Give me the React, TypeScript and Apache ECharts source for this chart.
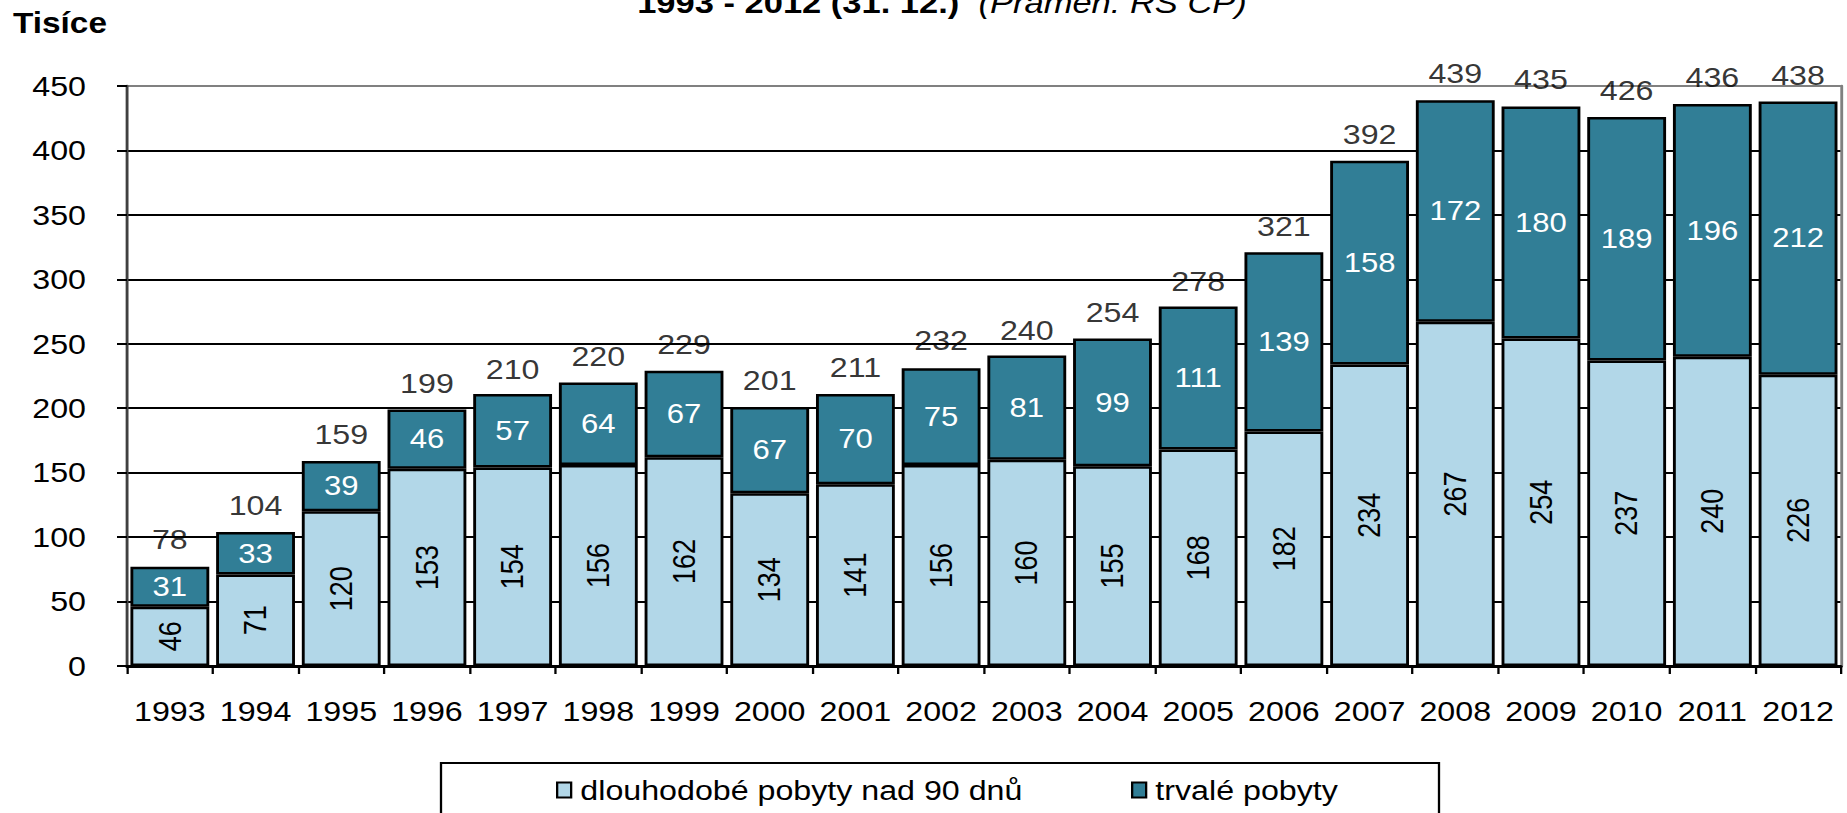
import React, { useEffect, useRef } from "react";
import * as echarts from "echarts";

const years = ["1993", "1994", "1995", "1996", "1997", "1998", "1999", "2000", "2001", "2002", "2003", "2004", "2005", "2006", "2007", "2008", "2009", "2010", "2011", "2012"];
const longTerm = [46, 71, 120, 153, 154, 156, 162, 134, 141, 156, 160, 155, 168, 182, 234, 267, 254, 237, 240, 226];
const permanent = [31, 33, 39, 46, 57, 64, 67, 67, 70, 75, 81, 99, 111, 139, 158, 172, 180, 189, 196, 212];
const totals = [78, 104, 159, 199, 210, 220, 229, 201, 211, 232, 240, 254, 278, 321, 392, 439, 435, 426, 436, 438];
const yMin = 0;
const yMax = 450;
const yStep = 50;
const seriesNames = ["dlouhodobé pobyty nad 90 dnů", "trvalé pobyty"];
const unitLabel = "Tisíce";
const titleBold = "1993 - 2012 (31. 12.)";
const titleItalic = "(Pramen: ŘS CP)";

const FONT = '"Liberation Sans", Arial, sans-serif';
const LIGHT = "#B2D7E8";
const DARK = "#317E96";

// the reference image is stretched horizontally; reproduce with a CSS scaleX
const SX = 1.15;
const PAGE_W = 1847;
const PAGE_H = 813;
const CW = Math.round(PAGE_W / SX);
const px = (v: number) => v / SX;

export default function App() {
  const ref = useRef<HTMLDivElement>(null);
  useEffect(() => {
    const chart = echarts.init(ref.current!, null, { renderer: "svg" });
    const gridColors: string[] = [];
    for (let v = yMin; v <= yMax; v += yStep) gridColors.push(v === yMax ? "#808080" : "#000000");
    chart.setOption({
      animation: false,
      backgroundColor: "#ffffff",
      textStyle: { fontFamily: FONT },
      grid: { left: px(127), right: px(6), top: 86, bottom: 147, containLabel: false },
      xAxis: {
        type: "category",
        data: years,
        axisLine: { show: true, lineStyle: { color: "#000", width: 3 } },
        axisTick: { show: true, length: 8, lineStyle: { color: "#000", width: 2 } },
        axisLabel: { interval: 0, margin: 31, fontSize: 28, color: "#000", fontFamily: FONT },
        splitLine: { show: false },
      },
      yAxis: [
        {
          type: "value",
          min: yMin,
          max: yMax,
          interval: yStep,
          axisLine: { show: true, lineStyle: { color: "#404040", width: 2.5 } },
          axisTick: { show: true, length: px(10), lineStyle: { color: "#000", width: 2 } },
          axisLabel: { margin: px(41), fontSize: 28, color: "#000", fontFamily: FONT },
          splitLine: { show: true, lineStyle: { color: gridColors, width: 2 } },
        },
        {
          type: "value",
          position: "right",
          min: yMin,
          max: yMax,
          interval: yStep,
          axisLine: { show: true, lineStyle: { color: "#808080", width: 2.5 } },
          axisTick: { show: false },
          axisLabel: { show: false },
          splitLine: { show: false },
        },
      ],
      legend: [
        {
          data: [seriesNames[0]],
          left: px(556),
          top: 776,
          padding: 0,
          itemWidth: px(14),
          itemHeight: 15,
          icon: "rect",
          textStyle: { fontSize: 28, color: "#000", fontFamily: FONT, padding: [0, 0, 0, 3] },
        },
        {
          data: [seriesNames[1]],
          left: px(1131),
          top: 776,
          padding: 0,
          itemWidth: px(14),
          itemHeight: 15,
          icon: "rect",
          textStyle: { fontSize: 28, color: "#000", fontFamily: FONT, padding: [0, 0, 0, 3] },
        },
      ],
      graphic: [
        {
          type: "text",
          x: px(942),
          y: 18,
          style: {
            text: "{b|" + titleBold + "}  {i|" + titleItalic + "}",
            align: "center",
            verticalAlign: "bottom",
            fill: "#000",
            fontSize: 30,
            rich: {
              b: { fontWeight: "bold", fontSize: 30, fontFamily: FONT, fill: "#000" },
              i: { fontStyle: "italic", fontSize: 30, fontFamily: FONT, fill: "#000" },
            },
          },
        },
        {
          type: "text",
          x: px(13),
          y: 23,
          style: {
            text: unitLabel,
            fontWeight: "bold",
            fontSize: 29,
            fontFamily: FONT,
            fill: "#000",
            align: "left",
            verticalAlign: "middle",
          },
        },
        {
          type: "rect",
          shape: { x: px(441), y: 763, width: px(998), height: 120 },
          style: { fill: "none", stroke: "#000", lineWidth: 2 },
          z: -1,
        },
      ],
      series: [
        {
          name: seriesNames[0],
          type: "bar",
          stack: "total",
          data: longTerm,
          barCategoryGap: "8%",
          itemStyle: { color: LIGHT, borderColor: "#000", borderWidth: 2.5 },
          label: { show: true, position: "inside", rotate: 90, color: "#000", fontSize: 27, fontFamily: FONT },
        },
        {
          name: seriesNames[1],
          type: "bar",
          stack: "total",
          data: permanent,
          barCategoryGap: "8%",
          itemStyle: { color: DARK, borderColor: "#000", borderWidth: 2.5 },
          label: { show: true, position: "inside", color: "#fff", fontSize: 27, fontFamily: FONT },
        },
        {
          name: "total",
          type: "scatter",
          data: totals,
          symbolSize: 1,
          itemStyle: { color: "rgba(0,0,0,0)" },
          label: { show: true, position: "top", distance: 12, color: "#000", fontSize: 28, fontFamily: FONT },
          z: 5,
        },
      ],
    });
    return () => chart.dispose();
  }, []);
  return (
    <div
      ref={ref}
      style={{
        position: "fixed",
        left: 0,
        top: 0,
        width: CW,
        height: PAGE_H,
        background: "#fff",
        transform: `scaleX(${SX})`,
        transformOrigin: "0 0",
      }}
    />
  );
}
